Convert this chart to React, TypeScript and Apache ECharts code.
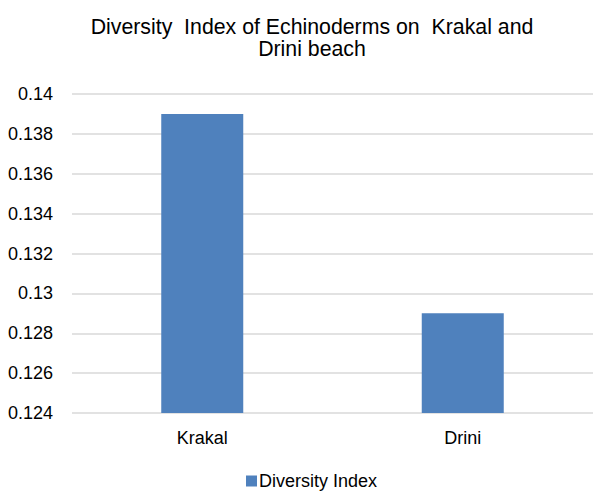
import React, { useEffect, useRef } from "react";
import * as echarts from "echarts";

const categories = ["Krakal", "Drini"];
const diversityIndex = [0.139, 0.129];
const seriesName = "Diversity Index";
const titleText = "Diversity  Index of Echinoderms on  Krakal and\nDrini beach";

export default function App() {
  const ref = useRef<HTMLDivElement>(null);
  useEffect(() => {
    if (!ref.current) return;
    const chart = echarts.init(ref.current, undefined, { renderer: "svg" });
    const font = "'Liberation Sans', Arial, sans-serif";
    chart.setOption({
      animation: false,
      backgroundColor: "#ffffff",
      title: {
        text: titleText,
        left: 307,
        textAlign: "center",
        top: 11,
        padding: 5,
        textStyle: { fontFamily: font, fontSize: 21.3, fontWeight: "normal", color: "#000", lineHeight: 22 },
      },
      legend: {
        top: 472,
        left: 246,
        padding: 0,
        itemWidth: 11,
        itemHeight: 11,
        itemGap: 4,
        icon: "rect",
        textStyle: { fontFamily: font, fontSize: 18, color: "#000", padding: [0, 0, 0, -3] },
        data: [seriesName],
      },
      grid: { left: 72, right: -4, top: 94, bottom: 79, containLabel: false },
      xAxis: {
        type: "category",
        data: categories,
        axisLine: { show: false },
        axisTick: { show: false },
        axisLabel: { fontFamily: font, fontSize: 18, color: "#000", margin: 16 },
      },
      yAxis: {
        type: "value",
        min: 0.124,
        max: 0.14,
        interval: 0.002,
        axisLine: { show: false },
        axisTick: { show: false },
        splitLine: { lineStyle: { color: "#d9d9d9", width: 1.5 } },
        axisLabel: {
          fontFamily: font,
          fontSize: 18,
          color: "#000",
          margin: 19,
          formatter: (v: number) => String(parseFloat(v.toFixed(3))),
        },
      },
      series: [
        {
          name: seriesName,
          type: "bar",
          data: diversityIndex,
          barWidth: 82,
          itemStyle: { color: "#4f81bd" },
        },
      ],
    });
    return () => chart.dispose();
  }, []);
  return <div ref={ref} style={{ width: 593, height: 492, position: "absolute", left: 0, top: 0 }} />;
}
